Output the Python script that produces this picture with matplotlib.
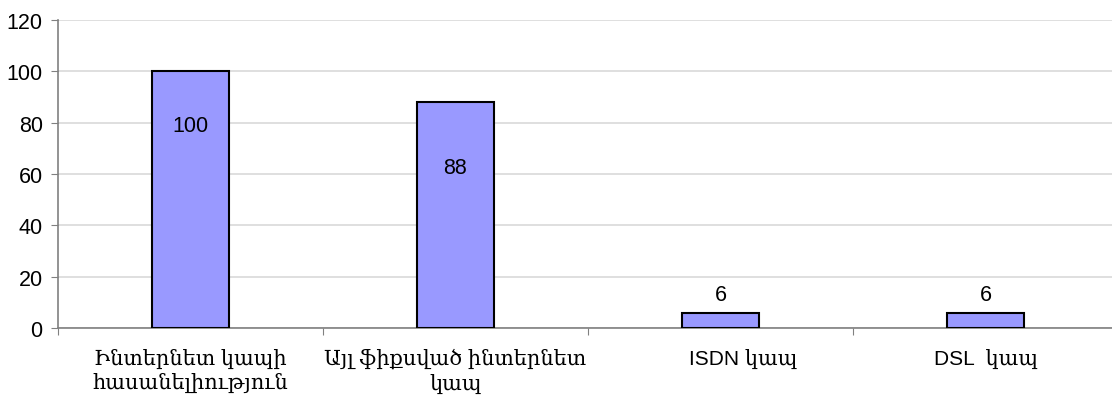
import matplotlib
matplotlib.use("Agg")
import matplotlib.pyplot as plt
import numpy as np

# data
categories = ["Ինտերնետ կապի\nհասանելիություն", "Այլ ֆիքսված ինտերնետ\nկապ", "        ISDN կապ", "DSL  կապ"]
values = [100, 88, 6, 6]
yticks = [0, 20, 40, 60, 80, 100, 120]

fonts = ['Liberation Sans', 'DejaVu Serif']
plt.rcParams['font.family'] = fonts

fig = plt.figure(figsize=(11.12, 4.06), dpi=100)
ax = fig.add_axes([58/1112, 77/406, 1060/1112, 308/406])

x = np.arange(len(values))
bars = ax.bar(x, values, width=0.287, color='#9999ff', edgecolor='black', linewidth=1.5, zorder=3)

# value labels (inside for tall bars, above for short ones)
label_off = [-54, -65, 18, 18]
for b, v, off in zip(bars, values, label_off):
    ax.annotate(str(v), (b.get_x() + b.get_width()/2, v), xytext=(0, off), textcoords='offset pixels',
                ha='center', va='center', fontsize=15.5, color='black', family=fonts)

ax.set_xlim(-0.5, len(values) - 0.5)
ax.set_ylim(0, 120)
ax.set_yticks(yticks)
ax.set_yticklabels([str(t) for t in yticks], fontsize=15.5)
ax.yaxis.grid(True, color='#d9d9d9', linewidth=1.2, zorder=0)
ax.set_axisbelow(True)

# category boundaries as tick marks, labels in the middle
ax.set_xticks(np.arange(len(values) + 1) - 0.5)
ax.set_xticklabels([])
ax.set_xticks(x, minor=True)
ax.set_xticklabels(categories, minor=True, fontsize=15, linespacing=1.3)
ax.tick_params(axis='x', which='minor', length=0, pad=14)
ax.tick_params(axis='x', which='major', length=5, color='#808080', direction='out')
ax.tick_params(axis='y', length=5, color='#808080', direction='out', pad=6)

for s in ['top', 'right']:
    ax.spines[s].set_visible(False)
for s in ['left', 'bottom']:
    ax.spines[s].set_color('#808080')
    ax.spines[s].set_linewidth(1.2)

fig.savefig('out.png', dpi=100)
